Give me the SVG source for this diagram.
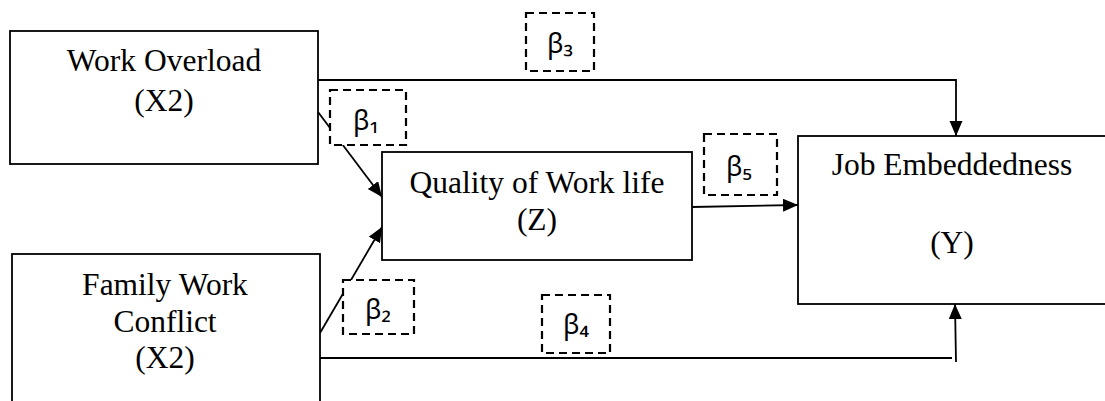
<svg xmlns="http://www.w3.org/2000/svg" width="1105" height="401" viewBox="0 0 1105 401">
<style>
.box{fill:#fff;stroke:#000;stroke-width:1.8}
.lbl{font-family:"Liberation Serif","Times New Roman",serif;font-size:31.5px;fill:#000;text-anchor:middle}
.conn{fill:none;stroke:#000;stroke-width:1.8}
.beta{fill:#fff;stroke:#000;stroke-width:2.2;stroke-dasharray:8 5}
.bt{font-family:"Noto Sans","DejaVu Sans",sans-serif;font-size:27px;fill:#000;text-anchor:middle}
</style>
<defs>
<marker id="arr" markerUnits="userSpaceOnUse" markerWidth="16" markerHeight="14" refX="15" refY="6.5" orient="auto">
<path d="M0,0 L15,6.5 L0,13 z" fill="#000"/>
</marker>
</defs>
<rect width="1105" height="401" fill="#fff"/>
<g id="connectors">
<polyline class="conn" points="318,80 956,80 956,136" marker-end="url(#arr)"/>
<line class="conn" x1="318" y1="112" x2="382" y2="197" marker-end="url(#arr)"/>
<line class="conn" x1="320" y1="333" x2="382" y2="227" marker-end="url(#arr)"/>
<line class="conn" x1="692" y1="207" x2="798" y2="205" marker-end="url(#arr)"/>
<line class="conn" x1="320" y1="358" x2="952" y2="358"/>
<line class="conn" x1="956" y1="362" x2="955" y2="304" marker-end="url(#arr)"/>
</g>
<g id="work-overload">
<rect class="box" x="10" y="31" width="308" height="133"/>
<text class="lbl" x="164" y="71">Work Overload</text>
<text class="lbl" x="164" y="111">(X2)</text>
</g>
<g id="family-work-conflict">
<rect class="box" x="12" y="254" width="308" height="160"/>
<text class="lbl" x="165" y="295">Family Work</text>
<text class="lbl" x="165" y="332">Conflict</text>
<text class="lbl" x="165" y="368">(X2)</text>
</g>
<g id="quality-of-work-life">
<rect class="box" x="382" y="152" width="310" height="108"/>
<text class="lbl" x="537" y="193">Quality of Work life</text>
<text class="lbl" x="537" y="230">(Z)</text>
</g>
<g id="job-embeddedness">
<rect class="box" x="798" y="136" width="330" height="168"/>
<text class="lbl" x="952" y="175">Job Embeddedness</text>
<text class="lbl" x="952" y="253">(Y)</text>
</g>
<g id="beta-labels">
<g id="beta3"><rect class="beta" x="526" y="13" width="68" height="58"/><text class="bt" x="560" y="53">β₃</text></g>
<g id="beta1"><rect class="beta" x="330" y="90" width="76" height="55"/><text class="bt" x="366" y="130">β₁</text></g>
<g id="beta2"><rect class="beta" x="343" y="280" width="71" height="54"/><text class="bt" x="378" y="319">β₂</text></g>
<g id="beta4"><rect class="beta" x="542" y="295" width="68" height="58"/><text class="bt" x="576" y="334">β₄</text></g>
<g id="beta5"><rect class="beta" x="704" y="134" width="73" height="61"/><text class="bt" x="739" y="176">β₅</text></g>
</g>
</svg>
